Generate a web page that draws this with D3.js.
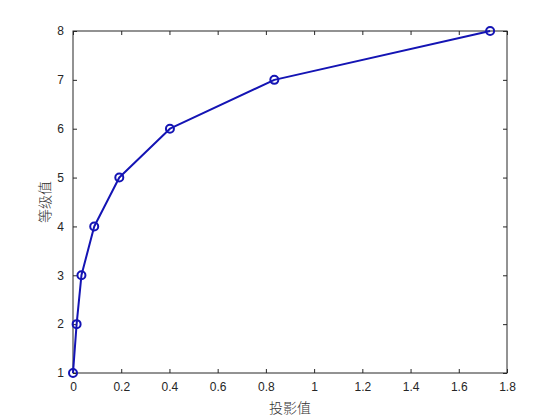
<!DOCTYPE html>
<html>
<head>
<meta charset="utf-8">
<script src="https://cdn.jsdelivr.net/npm/d3@7"></script>
<style>
  body { margin: 0; background: #fff; }
  svg { display: block; }
</style>
</head>
<body>
<svg width="560" height="420"></svg>
<script>
// projection values vs grade values
const proj = [0.0, 0.015, 0.035, 0.088, 0.192, 0.402, 0.835, 1.73];
const grade = [1, 2, 3, 4, 5, 6, 7, 8];
const xTicks = [0, 0.2, 0.4, 0.6, 0.8, 1, 1.2, 1.4, 1.6, 1.8];
const yTicks = [1, 2, 3, 4, 5, 6, 7, 8];

const sv = d3.select("svg");
const m = { l: 73, r: 507, t: 31, b: 373 };
const col = "#1414b4";
const tickFont = "Liberation Sans, Arial, sans-serif";

const x = d3.scaleLinear().domain([0, 1.8]).range([m.l, m.r]);
const y = d3.scaleLinear().domain([1, 8]).range([m.b, m.t]);

function styleAxis(g) {
    g.select(".domain").remove();
    g.selectAll("line").attr("stroke", "#262626");
    g.selectAll("text").attr("fill", "#262626")
        .style("font-family", tickFont).style("font-size", "12px");
}

sv.append("g").attr("transform", `translate(0,${m.b})`)
    .call(d3.axisBottom(x).tickValues(xTicks).tickSizeInner(-4).tickSizeOuter(0).tickPadding(9).tickFormat(d3.format("")))
    .call(styleAxis);
sv.append("g").attr("transform", `translate(0,${m.t})`)
    .call(d3.axisTop(x).tickValues(xTicks).tickSizeInner(-4).tickSizeOuter(0).tickFormat(""))
    .call(styleAxis);
sv.append("g").attr("transform", `translate(${m.l},0)`)
    .call(d3.axisLeft(y).tickValues(yTicks).tickSizeInner(-4).tickSizeOuter(0).tickPadding(9).tickFormat(d3.format("")))
    .call(styleAxis);
sv.append("g").attr("transform", `translate(${m.r},0)`)
    .call(d3.axisRight(y).tickValues(yTicks).tickSizeInner(-4).tickSizeOuter(0).tickFormat(""))
    .call(styleAxis);

// box
sv.append("rect")
    .attr("x", m.l).attr("y", m.t)
    .attr("width", m.r - m.l).attr("height", m.b - m.t)
    .attr("fill", "none").attr("stroke", "#262626").attr("stroke-width", 1);

const pts = proj.map((p, i) => [p, grade[i]]);

sv.append("path")
    .datum(pts)
    .attr("fill", "none")
    .attr("stroke", col)
    .attr("stroke-width", 2)
    .attr("stroke-linejoin", "round")
    .attr("d", d3.line().x(d => x(d[0])).y(d => y(d[1])));

sv.append("g").selectAll("circle")
    .data(pts)
    .enter()
    .append("circle")
    .attr("cx", d => x(d[0]))
    .attr("cy", d => y(d[1]))
    .attr("r", 4)
    .attr("fill", "none")
    .attr("stroke", col)
    .attr("stroke-width", 2);

sv.append("text")
    .attr("x", (m.l + m.r) / 2).attr("y", 413)
    .attr("text-anchor", "middle")
    .attr("fill", "#333")
    .style("font-family", "Noto Sans CJK SC")
    .style("font-size", "14px")
    .style("font-weight", 300)
    .text("投影值");

sv.append("text")
    .attr("transform", `translate(50,${(m.t + m.b) / 2}) rotate(-90)`)
    .attr("text-anchor", "middle")
    .attr("fill", "#333")
    .style("font-family", "Noto Sans CJK SC")
    .style("font-size", "14px")
    .style("font-weight", 300)
    .text("等级值");
</script>
</body>
</html>
